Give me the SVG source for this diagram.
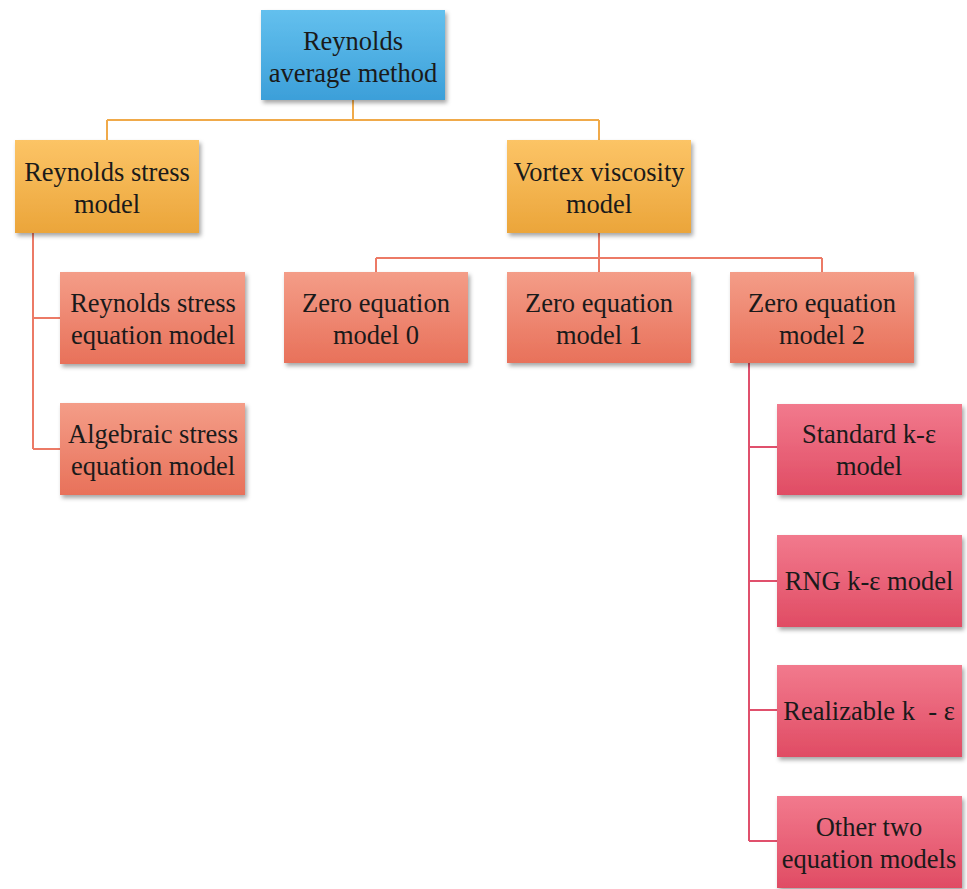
<svg xmlns="http://www.w3.org/2000/svg" width="967" height="889" viewBox="0 0 967 889">
<style>
.c{fill:none;stroke-width:2}
.co{stroke:#f0aa4a}.cs{stroke:#ec7a66}.cr{stroke:#e0506c}
</style>
<defs>
<linearGradient id="gb" x1="0" y1="0" x2="0" y2="1"><stop offset="0" stop-color="#63c0ee"/><stop offset="1" stop-color="#3c9fd9"/></linearGradient>
<linearGradient id="go" x1="0" y1="0" x2="0" y2="1"><stop offset="0" stop-color="#fcc466"/><stop offset="1" stop-color="#eba53a"/></linearGradient>
<linearGradient id="gs" x1="0" y1="0" x2="0" y2="1"><stop offset="0" stop-color="#f49d88"/><stop offset="1" stop-color="#e8715a"/></linearGradient>
<linearGradient id="gr" x1="0" y1="0" x2="0" y2="1"><stop offset="0" stop-color="#f27a8d"/><stop offset="1" stop-color="#e04c64"/></linearGradient>
<filter id="sh" x="-10%" y="-10%" width="125%" height="130%"><feDropShadow dx="2" dy="3" stdDeviation="2" flood-color="#000" flood-opacity="0.35"/></filter>
</defs>
<g id="connectors">
<path class="c co" d="M353 100V120M107 120H599M107 120V140M599 120V140"/>
<path class="c cs" d="M33 233V449M33 318H60M33 449H60"/>
<path class="c cs" d="M599 233V258M376 258H822M376 258V272M599 258V272M822 258V272"/>
<path class="c cr" d="M749 363V841M749 447H777M749 581H777M749 710H777M749 841H777"/>
</g>
<g font-family="Liberation Serif, serif" font-size="26.5" fill="#1a1a1a" text-anchor="middle">
<g id="n-reynolds-average"><rect x="261" y="10" width="184" height="90" fill="url(#gb)" filter="url(#sh)"/><text x="353" y="50">Reynolds</text><text x="353" y="82">average method</text></g>
<g id="n-reynolds-stress"><rect x="15" y="140" width="184" height="93" fill="url(#go)" filter="url(#sh)"/><text x="107" y="181">Reynolds stress</text><text x="107" y="213">model</text></g>
<g id="n-vortex"><rect x="507" y="140" width="184" height="93" fill="url(#go)" filter="url(#sh)"/><text x="599" y="181">Vortex viscosity</text><text x="599" y="213">model</text></g>
<g id="n-rs-eq"><rect x="60" y="272" width="185" height="92" fill="url(#gs)" filter="url(#sh)"/><text x="153" y="312">Reynolds stress</text><text x="153" y="344">equation model</text></g>
<g id="n-alg"><rect x="60" y="403" width="185" height="92" fill="url(#gs)" filter="url(#sh)"/><text x="153" y="443">Algebraic stress</text><text x="153" y="475">equation model</text></g>
<g id="n-zero0"><rect x="284" y="272" width="184" height="91" fill="url(#gs)" filter="url(#sh)"/><text x="376" y="312">Zero equation</text><text x="376" y="344">model 0</text></g>
<g id="n-zero1"><rect x="507" y="272" width="184" height="91" fill="url(#gs)" filter="url(#sh)"/><text x="599" y="312">Zero equation</text><text x="599" y="344">model 1</text></g>
<g id="n-zero2"><rect x="730" y="272" width="184" height="91" fill="url(#gs)" filter="url(#sh)"/><text x="822" y="312">Zero equation</text><text x="822" y="344">model 2</text></g>
<g id="n-standard"><rect x="777" y="404" width="185" height="91" fill="url(#gr)" filter="url(#sh)"/><text x="869" y="443">Standard k-ε</text><text x="869" y="475">model</text></g>
<g id="n-rng"><rect x="777" y="535" width="185" height="92" fill="url(#gr)" filter="url(#sh)"/><text x="869" y="590">RNG k-ε model</text></g>
<g id="n-realizable"><rect x="777" y="665" width="185" height="92" fill="url(#gr)" filter="url(#sh)"/><text x="869" y="720" xml:space="preserve">Realizable k  - ε</text></g>
<g id="n-other"><rect x="777" y="796" width="185" height="92" fill="url(#gr)" filter="url(#sh)"/><text x="869" y="836">Other two</text><text x="869" y="868">equation models</text></g>
</g>
</svg>
